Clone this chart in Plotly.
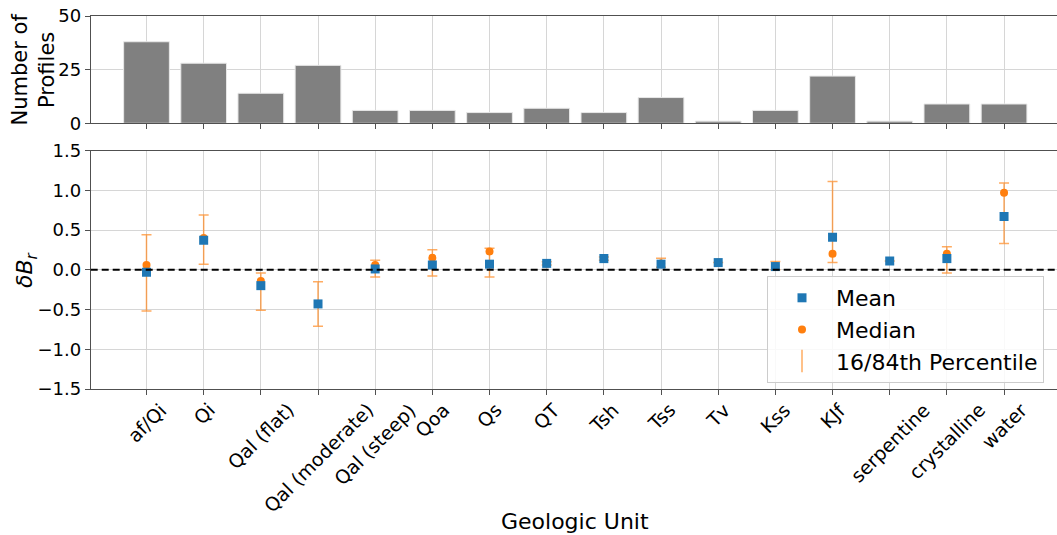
import plotly.graph_objects as go
from plotly.subplots import make_subplots

# Geologic units and per-unit statistics of the residual δB_r
units = ["af/Qi", "Qi", "Qal (flat)", "Qal (moderate)", "Qal (steep)", "Qoa", "Qs", "QT",
         "Tsh", "Tss", "Tv", "Kss", "KJf", "serpentine", "crystalline", "water"]
n_profiles = [38, 28, 14, 27, 6, 6, 5, 7, 5, 12, 1, 6, 22, 1, 9, 9]
mean_vals = [-0.03, 0.37, -0.20, -0.43, 0.01, 0.06, 0.07, 0.08, 0.14, 0.07, 0.09, 0.04, 0.41, 0.11, 0.14, 0.67]
median_vals = [0.06, 0.40, -0.14, -0.43, 0.06, 0.15, 0.23, 0.08, 0.14, 0.08, 0.09, 0.05, 0.20, 0.11, 0.20, 0.97]
p16_vals = [-0.52, 0.07, -0.51, -0.71, -0.09, -0.08, -0.09, 0.06, 0.12, 0.03, 0.09, 0.00, 0.09, 0.11, -0.04, 0.33]
p84_vals = [0.44, 0.69, -0.04, -0.15, 0.12, 0.25, 0.27, 0.10, 0.16, 0.145, 0.09, 0.105, 1.11, 0.11, 0.29, 1.09]

y_ticks = [-1.5, -1.0, -0.5, 0.0, 0.5, 1.0, 1.5]
y_ticktext = [f"{v:.1f}".replace("-", "\u2212") for v in y_ticks]

FONT = "DejaVu Sans"
BLUE = "#1f77b4"
ORANGE = "#ff7f0e"
ERR = "rgba(255,127,14,0.65)"
GRID = "#d6d6d6"
SPINE = "#505050"

W, H = 1057, 535
xs = list(range(len(units)))

fig = make_subplots(rows=2, cols=1, shared_xaxes=False)

# Top panel: profile counts
fig.add_trace(go.Bar(x=xs, y=n_profiles, width=0.8, marker=dict(color="#808080",
              line=dict(color="#e8e8e8", width=1)), showlegend=False), row=1, col=1)

# Bottom panel: percentile range, median and mean
err_plus = [hi - m for hi, m in zip(p84_vals, median_vals)]
err_minus = [m - lo for lo, m in zip(p16_vals, median_vals)]
fig.add_trace(go.Scatter(x=xs, y=median_vals, mode="markers",
              marker=dict(size=1, opacity=0),
              error_y=dict(type="data", symmetric=False, array=err_plus, arrayminus=err_minus,
                           color=ERR, thickness=1.5, width=5),
              showlegend=False, hoverinfo="skip"), row=2, col=1)
fig.add_trace(go.Scatter(x=[None], y=[None], mode="markers", name="16/84th Percentile",
              marker=dict(symbol="line-ns-open", size=18, color=ERR, line=dict(color=ERR, width=1.5)),
              legendrank=3), row=2, col=1)
fig.add_trace(go.Scatter(x=xs, y=median_vals, mode="markers", name="Median",
              marker=dict(symbol="circle", size=8, color=ORANGE), legendrank=2), row=2, col=1)
fig.add_trace(go.Scatter(x=xs, y=mean_vals, mode="markers", name="Mean",
              marker=dict(symbol="square", size=9, color=BLUE), legendrank=1), row=2, col=1)

# Reference line at zero
fig.add_shape(type="line", xref="x2 domain", yref="y2", x0=0, x1=1, y0=0, y1=0,
              line=dict(color="black", width=2, dash="7px,4px"))

x_left, x_tick0, x_step = 90.7, 146.5, 57.17
x_range = [(x_left - x_tick0) / x_step, (W - x_tick0) / x_step]
dom_x = [x_left / W, 1.0]

axis_common = dict(showline=True, linecolor=SPINE, linewidth=1, mirror=True,
                   showgrid=True, gridcolor=GRID, gridwidth=1, automargin=False,
                   ticks="outside", ticklen=5, tickcolor=SPINE,
                   tickfont=dict(family=FONT, size=18, color="black"), zeroline=False)

fig.update_xaxes(range=x_range, domain=dom_x, tickvals=xs, showticklabels=False, **axis_common)
fig.update_yaxes(**axis_common)
fig.update_yaxes(row=1, col=1, range=[0, 50], tickvals=[0, 25, 50],
                 domain=[1 - 123.3 / H, 1 - 16 / H])
fig.update_yaxes(row=2, col=1, range=[-1.5, 1.5], tickvals=y_ticks, ticktext=y_ticktext,
                 domain=[1 - 389 / H, 1 - 150.5 / H])

annotations = []
# Rotated unit labels under the bottom panel
for i, u in enumerate(units):
    annotations.append(dict(x=i, xref="x2", y=1 - 396 / H, yref="paper", text=u,
                            showarrow=False, textangle=-45, xanchor="center", yanchor="top",
                            font=dict(family=FONT, size=19, color="black")))
annotations.append(dict(x=33 / W, y=1 - 69.5 / H, xref="paper", yref="paper",
                        text="Number of<br>Profiles", textangle=-90, showarrow=False,
                        xanchor="center", yanchor="middle",
                        font=dict(family=FONT, size=21, color="black")))
annotations.append(dict(x=27 / W, y=1 - 270 / H, xref="paper", yref="paper",
                        text="<i>δB</i><sub><i>r</i></sub>", textangle=-90, showarrow=False,
                        xanchor="center", yanchor="middle",
                        font=dict(family=FONT, size=22, color="black")))
annotations.append(dict(x=575 / W, y=1 - 521 / H, xref="paper", yref="paper",
                        text="Geologic Unit", showarrow=False,
                        xanchor="center", yanchor="middle",
                        font=dict(family=FONT, size=22, color="black")))

fig.update_layout(
    width=W, height=H, margin=dict(l=0, r=0, t=0, b=0, pad=0, autoexpand=False),
    paper_bgcolor="white", plot_bgcolor="white",
    font=dict(family=FONT, color="black"),
    bargap=0.2, annotations=annotations,
    legend=dict(x=767 / W, y=1 - 276 / H, xanchor="left", yanchor="top",
                bgcolor="rgba(255,255,255,0.85)", bordercolor="#cccccc", borderwidth=1,
                font=dict(family=FONT, size=22, color="black"), traceorder="normal",
                itemsizing="trace", itemwidth=58),
)

fig.write_html("out.html")
